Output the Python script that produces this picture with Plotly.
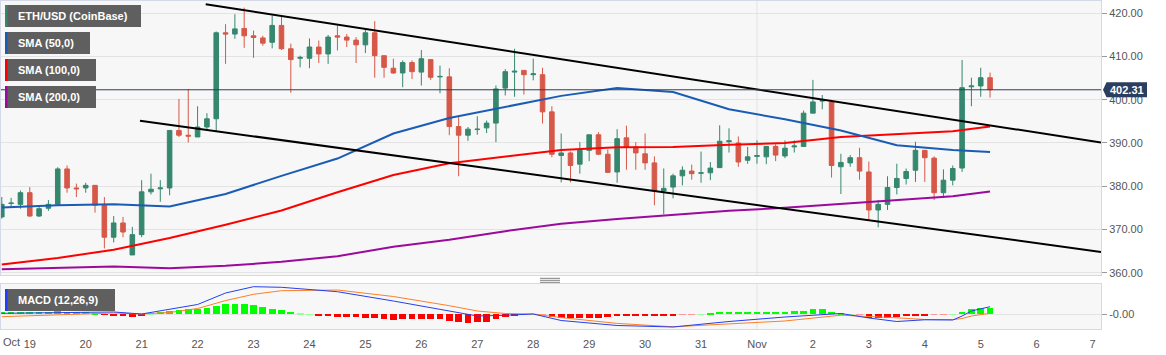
import plotly.graph_objects as go
from datetime import datetime, timedelta

# ---------------- data (4h candles, ETH/USD Coinbase) ----------------
BASE = datetime(2020, 10, 18, 12, 0)
STEP_HOURS = 4

opens = [372.9, 376.0, 375.8, 378.5, 373.1, 374.9, 375.8, 384.0, 379.6, 379.6,
         380.2, 375.6, 368.2, 371.5, 364.1, 368.8, 378.7, 379.4, 379.6, 392.9,
         391.8, 391.4, 393.7, 395.6, 415.5, 415.2, 416.5, 414.8, 414.3, 413.3,
         417.2, 411.8, 409.6, 409.6, 412.2, 410.6, 414.8, 414.5, 413.8, 412.7,
         415.5, 410.2, 407.3, 406.2, 408.6, 406.4, 409.3, 405.3, 405.3, 393.8,
         391.8, 393.1, 393.5, 394.6, 402.7, 406.4, 406.8, 405.8, 405.8, 397.2,
         387.1, 387.7, 385.1, 388.3, 391.9, 387.4, 383.3, 391.2, 389.1, 387.5,
         385.4, 378.9, 379.8, 382.4, 383.5, 383.0, 383.1, 384.3, 390.3, 390.0,
         386.0, 386.9, 386.8, 389.2, 387.0, 389.1, 389.2, 396.9, 399.7, 399.5,
         384.5, 385.4, 386.6, 383.3, 374.5, 375.8, 379.7, 381.8, 383.7, 388.3,
         386.5, 378.5, 381.4, 384.2, 403.0, 403.2, 405.1]
highs = [377.5, 377.3, 379.0, 379.8, 375.4, 376.8, 384.4, 384.8, 380.6, 380.8,
         380.2, 377.5, 373.1, 372.9, 370.6, 381.4, 382.9, 381.4, 392.9, 400.2,
         402.5, 398.5, 396.9, 415.8, 417.5, 419.8, 421.3, 416.0, 414.8, 419.5,
         419.2, 413.0, 410.2, 414.2, 413.7, 415.0, 417.2, 415.2, 414.5, 416.4,
         418.2, 410.2, 409.5, 409.1, 409.1, 411.5, 409.3, 407.9, 407.3, 396.0,
         393.7, 396.2, 395.2, 403.3, 407.1, 411.8, 406.8, 409.5, 407.4, 398.5,
         392.2, 388.0, 390.2, 391.9, 392.5, 388.5, 393.2, 394.0, 390.2, 392.2,
         386.9, 384.1, 382.9, 384.6, 385.0, 388.0, 385.6, 394.1, 393.4, 391.5,
         389.1, 390.6, 389.2, 389.7, 390.6, 390.6, 397.5, 404.6, 401.1, 400.0,
         387.5, 387.2, 388.9, 385.7, 376.8, 382.3, 385.2, 384.1, 390.3, 388.3,
         386.9, 383.9, 384.8, 409.2, 405.1, 407.4, 406.3]
lows = [372.5, 375.0, 374.8, 372.9, 372.9, 374.3, 375.8, 378.5, 377.5, 378.5,
        373.9, 365.6, 367.0, 368.2, 364.1, 368.2, 378.1, 376.4, 377.9, 391.4,
        390.1, 391.4, 392.9, 392.8, 408.3, 414.1, 412.0, 409.7, 412.5, 411.9,
        411.5, 401.6, 407.5, 407.3, 408.5, 408.3, 411.4, 412.2, 408.5, 410.8,
        405.1, 405.1, 406.0, 402.9, 404.8, 403.3, 404.6, 401.5, 391.8, 382.3,
        390.5, 391.9, 392.3, 390.2, 401.0, 400.7, 401.2, 404.5, 394.5, 386.7,
        380.9, 380.9, 382.9, 385.8, 387.2, 383.2, 380.8, 383.8, 383.8, 383.8,
        375.6, 373.5, 377.2, 380.2, 381.5, 380.8, 381.4, 384.3, 387.8, 384.5,
        385.2, 385.2, 385.1, 385.8, 386.5, 387.8, 389.1, 396.9, 397.8, 382.0,
        378.2, 384.5, 381.5, 372.2, 370.5, 374.5, 378.1, 380.4, 381.0, 381.0,
        376.8, 377.3, 380.2, 383.3, 398.5, 400.7, 400.5]
closes = [375.8, 376.1, 378.5, 373.1, 374.8, 375.8, 384.0, 379.6, 379.4, 380.2,
          375.6, 368.2, 371.5, 369.4, 368.8, 378.7, 379.3, 379.6, 392.9, 391.8,
          391.6, 393.7, 395.6, 415.5, 415.2, 416.4, 414.8, 414.4, 413.1, 417.2,
          411.8, 409.3, 409.8, 412.2, 410.6, 414.5, 414.5, 413.8, 412.7, 415.5,
          410.2, 407.5, 406.2, 408.6, 406.5, 409.5, 405.2, 405.4, 393.8, 391.8,
          393.2, 393.2, 394.6, 402.5, 406.5, 406.6, 405.8, 406.0, 397.2, 387.4,
          387.7, 384.8, 388.3, 391.9, 387.4, 383.2, 391.0, 389.1, 387.7, 385.4,
          378.9, 379.5, 382.4, 383.7, 382.9, 383.1, 384.2, 390.4, 390.5, 385.6,
          386.8, 387.1, 389.2, 387.2, 388.8, 389.3, 396.9, 399.5, 399.8, 384.8,
          385.5, 386.6, 383.5, 374.5, 375.8, 379.7, 381.8, 383.4, 388.3, 386.6,
          378.5, 381.4, 384.1, 402.8, 403.2, 405.1, 402.31]

# moving averages read at candle indices
sma_idx = [0, 6, 12, 18, 24, 30, 36, 42, 48, 54, 60, 66, 72, 78, 84, 90, 96, 102, 106]
sma50 = [375.1, 375.6, 375.8, 375.3, 378.2, 382.4, 386.4, 392.2, 395.8, 398.4,
         400.9, 402.7, 401.8, 397.8, 395.5, 392.9, 389.5, 388.4, 387.9]
sma100 = [361.9, 363.4, 365.3, 368.0, 371.1, 374.4, 378.6, 382.6, 385.3, 386.9,
          388.4, 389.0, 389.1, 389.6, 390.0, 391.4, 392.1, 392.7, 393.8]
sma200 = [360.8, 361.1, 361.4, 361.0, 361.6, 362.5, 363.8, 366.0, 367.6, 369.6,
          371.3, 372.4, 373.4, 374.3, 375.0, 375.9, 376.9, 377.7, 378.8]

# channel trend lines (candle index, price)
upper_idx = [21.87, 117.9]
upper_val = [422.08, 390.12]
lower_idx = [14.82, 117.9]
lower_val = [395.13, 364.8]

# MACD (12,26,9)
macd_idx = [0, 6, 12, 15, 18, 21, 24, 27, 30, 36, 42, 48, 51, 54, 57, 60, 66, 72,
            78, 84, 90, 93, 96, 99, 102, 103, 104, 106]
macd_line = [0.33, 0.67, 0.77, 0.10, 1.60, 3.27, 7.10, 9.20, 9.00, 7.53, 4.43, 0.97,
             -0.57, -0.33, 0.10, -2.07, -3.73, -4.23, -2.40, -0.90, 0.27, -1.23,
             -2.40, -1.83, -1.90, -0.57, 1.10, 2.53]
signal_line = [-0.80, -0.23, 0.43, 0.10, 0.60, 1.93, 4.57, 6.67, 7.87, 8.10, 5.93,
               2.87, 1.10, 0.27, 0.10, -1.10, -3.03, -4.17, -3.30, -2.23, -0.30,
               -0.63, -1.17, -1.73, -1.77, -1.40, -0.57, 0.33]
histogram = [0.67, 0.67, 0.77, 0.77, 0.67, 0.67, 1.0, 0.83, 0.77, 0.67, 0.33,
             -0.23, -0.5, -0.67, -1.0, -0.33, 0.17, 0.67,
             1.1, 1.5, 1.77, 1.83, 2.17, 2.9, 3.4, 3.5, 3.33, 3.0, 2.43, 1.9, 1.33, 0.67, 0.17, 0.07,
             -0.43, -0.6, -0.77, -0.9, -0.9, -1.1, -1.23, -1.67, -1.77,
             -1.67, -1.67, -1.67, -1.67, -1.67, -2.1, -2.67, -2.77, -2.43, -2.43, -1.57, -0.77, -0.33, -0.1,
             0.1, -0.17, -1.0, -1.33, -1.33, -1.17, -1.17, -1.07, -0.93, -0.5, -0.5, -0.5, -0.4, -0.4,
             -0.4, -0.27, -0.17, -0.1, 0.1,
             0.57, 0.77, 0.9, 0.9, 0.9, 0.9, 0.9, 0.9, 0.9, 0.95, 1.23, 1.67, 1.67, 0.67, 0.33, 0.1,
             -0.1, -1.1, -1.23, -1.23, -0.77, -0.43, -0.33, -0.27, -0.2, -0.13, 0.1, 0.9, 1.67, 2.23, 2.23]

# axis
price_ticks = [360, 370, 380, 390, 400, 410, 420]
day_idx = [3 + 6 * k for k in range(20)]
day_labels = ["19", "20", "21", "22", "23", "24", "25", "26", "27", "28", "29", "30",
              "31", "Nov", "2", "3", "4", "5", "6", "7"]
x_range_idx = [-0.086, 117.9]
y_range = [359.46, 422.85]
macd_range = [-4.9, 10.1]


def t(i):
    return BASE + timedelta(hours=STEP_HOURS * i)


times = [t(i) for i in range(len(closes))]

# ---------------- styling ----------------
W, H = 1166, 355
ML, MR, MT, MB = 1, 65, 1, 26
PW, PH = W - ML - MR, H - MT - MB
GREEN, RED = "#35876e", "#d65848"
GRID = "#e3e3e3"
BORDER = "#d3d9e6"
TXT = "#555555"
FONT = "Liberation Sans, Arial, sans-serif"


def px2x(px):
    return (px - ML) / PW


def px2y(py):
    return (H - MB - py) / PH


main_dom = [px2y(275), 1.0]
macd_dom = [0.0, px2y(284)]

fig = go.Figure()

fig.add_trace(go.Candlestick(
    x=times, open=opens, high=highs, low=lows, close=closes,
    xaxis="x", yaxis="y", whiskerwidth=0,
    increasing=dict(line=dict(color=GREEN, width=1), fillcolor=GREEN),
    decreasing=dict(line=dict(color=RED, width=1), fillcolor=RED),
    showlegend=False, hoverinfo="skip"))

for vals, col in [(sma200, "#9b0a9b"), (sma100, "#ff0000"), (sma50, "#1a5cb5")]:
    fig.add_trace(go.Scatter(x=[t(i) for i in sma_idx], y=vals, mode="lines",
                             line=dict(color=col, width=2), xaxis="x", yaxis="y",
                             showlegend=False, hoverinfo="skip"))

for ix, iv in [(upper_idx, upper_val), (lower_idx, lower_val)]:
    fig.add_trace(go.Scatter(x=[t(i) for i in ix], y=iv, mode="lines",
                             line=dict(color="#000000", width=2), xaxis="x", yaxis="y",
                             showlegend=False, hoverinfo="skip"))


def hist_color(v):
    if v >= 0:
        return "#00ff00" if v > 0.2 else "#99ff99"
    return "#ff0000" if v < -0.2 else "#ff9999"


fig.add_trace(go.Bar(x=times, y=histogram, marker=dict(color=[hist_color(v) for v in histogram],
                                                      line=dict(width=0)),
                     width=STEP_HOURS * 3600 * 1000 * 0.72, xaxis="x2", yaxis="y2",
                     showlegend=False, hoverinfo="skip"))
fig.add_trace(go.Scatter(x=[t(i) for i in macd_idx], y=signal_line, mode="lines",
                         line=dict(color="#ff7f27", width=1), xaxis="x2", yaxis="y2",
                         showlegend=False, hoverinfo="skip"))
fig.add_trace(go.Scatter(x=[t(i) for i in macd_idx], y=macd_line, mode="lines",
                         line=dict(color="#2440f0", width=1), xaxis="x2", yaxis="y2",
                         showlegend=False, hoverinfo="skip"))

xr = [t(x_range_idx[0]), t(x_range_idx[1])]

shapes = []
# month boundary vertical grid line (Nov 1)
nov1 = t(day_idx[day_labels.index("Nov")])
shapes.append(dict(type="line", xref="x", yref="y domain", x0=nov1, x1=nov1, y0=0, y1=1,
                   line=dict(color=GRID, width=1), layer="below"))
shapes.append(dict(type="line", xref="x2", yref="y2 domain", x0=nov1, x1=nov1, y0=0, y1=1,
                   line=dict(color=GRID, width=1), layer="below"))
# last price line
last = closes[-1]
shapes.append(dict(type="line", xref="paper", yref="y", x0=0, x1=1, y0=last, y1=last,
                   line=dict(color="#2c3e5f", width=1)))
# last price tag
shapes.append(dict(type="path", xref="paper", yref="y", xsizemode="pixel", ysizemode="pixel",
                   xanchor=1, yanchor=last,
                   path="M 2,0 L 5.5,-7.5 L 46,-7.5 L 46,7.5 L 5.5,7.5 Z",
                   fillcolor="#2c3e5f", line=dict(width=0)))

# legend boxes
legend_items = [
    ("ETH/USD (CoinBase)", GREEN, 5, 141, 5, 27),
    ("SMA (50,0)", "#1a5cb5", 5, 90, 32, 54),
    ("SMA (100,0)", "#ff0000", 5, 96, 59, 81),
    ("SMA (200,0)", "#9b0a9b", 5, 96, 86, 108),
    ("MACD (12,26,9)", "#1e3fff", 5, 115, 289, 311),
]
annotations = []
for label, col, x0, x1, y0, y1 in legend_items:
    shapes.append(dict(type="rect", xref="paper", yref="paper",
                       x0=px2x(x0), x1=px2x(x1), y0=px2y(y1), y1=px2y(y0),
                       fillcolor="#5f5f5f", line=dict(width=0)))
    shapes.append(dict(type="rect", xref="paper", yref="paper",
                       x0=px2x(x0), x1=px2x(x0 + 2.5), y0=px2y(y1), y1=px2y(y0),
                       fillcolor=col, line=dict(width=0)))
    annotations.append(dict(text=label, xref="paper", yref="paper", x=px2x(16),
                            y=px2y((y0 + y1) / 2), xanchor="left", yanchor="middle",
                            showarrow=False, font=dict(family=FONT, size=11, color="white",
                                                       weight="bold")))

# pane resize handle
for py in (278.3, 280.3, 282.3):
    shapes.append(dict(type="line", xref="paper", yref="paper", x0=px2x(540), x1=px2x(560),
                       y0=px2y(py), y1=px2y(py), line=dict(color="#808080", width=1)))

annotations.append(dict(text=f"{last:.2f}", xref="paper", yref="y", x=1, y=last,
                        xanchor="center", yanchor="middle", xshift=26, showarrow=False,
                        font=dict(family=FONT, size=11, color="white", weight="bold")))
annotations.append(dict(text="Oct", xref="x2", yref="paper", x=t(day_idx[0]), y=0,
                        xanchor="right", yanchor="top", xshift=-8, yshift=-5, showarrow=False,
                        font=dict(family=FONT, size=11, color=TXT)))

axis_common = dict(showline=True, mirror=True, linecolor=BORDER, linewidth=1, zeroline=False)

fig.update_layout(
    width=W, height=H, margin=dict(l=ML, r=MR, t=MT, b=MB, autoexpand=False),
    paper_bgcolor="white", plot_bgcolor="#f7f7f7",
    showlegend=False, hovermode=False, bargap=0,
    font=dict(family=FONT, size=11, color=TXT),
    xaxis=dict(domain=[0, 1], anchor="y", range=xr, showticklabels=False, showgrid=False,
               rangeslider=dict(visible=False), ticks="", **axis_common),
    yaxis=dict(domain=main_dom, anchor="x", side="right", range=y_range,
               tickvals=price_ticks, ticktext=[f"{v:.2f}" for v in price_ticks],
               showgrid=True, gridcolor=GRID, gridwidth=1, ticks="outside", ticklen=5,
               tickcolor="#999999", tickfont=dict(size=11, color=TXT), **axis_common),
    xaxis2=dict(domain=[0, 1], anchor="y2", range=xr, tickvals=[t(i) for i in day_idx],
                ticktext=day_labels, showgrid=False, ticks="", ticklabelstandoff=5,
                tickfont=dict(size=11, color=TXT), **axis_common),
    yaxis2=dict(domain=macd_dom, anchor="x2", side="right", range=macd_range,
                tickvals=[0], ticktext=["-0.00"], showgrid=True, gridcolor=GRID,
                ticks="outside", ticklen=5, tickcolor="#999999",
                tickfont=dict(size=11, color=TXT), **axis_common),
    shapes=shapes, annotations=annotations,
)

fig.write_html("out.html", config={"displayModeBar": False},
               post_script="document.body.style.margin='0';document.body.style.overflow='hidden';")
